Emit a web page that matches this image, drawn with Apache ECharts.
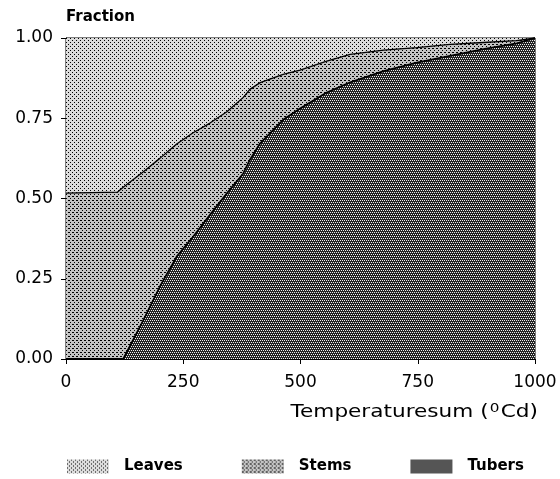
<!DOCTYPE html>
<html>
<head>
<meta charset="utf-8">
<script src="https://cdn.jsdelivr.net/npm/echarts@6/dist/echarts.min.js"></script>
<style>html,body{margin:0;padding:0;background:#fff;}#c{width:560px;height:479px;}</style>
</head>
<body>
<div id="c"></div>
<script>
// Temperature sum (°Cd) sample points
var temps = [0, 110, 122, 165, 200, 236, 271, 307, 343, 378, 392, 414, 463, 499, 556, 606, 677, 748, 819, 890, 961, 1000];
// Fractions of each organ (stacked: tubers bottom, stems middle, leaves top)
var tubers = [0, 0, 0, 0.121, 0.225, 0.319, 0.381, 0.449, 0.516, 0.578, 0.62, 0.672, 0.745, 0.78, 0.83, 0.862, 0.897, 0.923, 0.944, 0.965, 0.983, 1.0];
var stems  = [0.517, 0.52, 0.535, 0.462, 0.4, 0.351, 0.324, 0.286, 0.254, 0.237, 0.22, 0.189, 0.142, 0.12, 0.098, 0.087, 0.065, 0.047, 0.036, 0.021, 0.009, 0];
var leaves = [0.483, 0.48, 0.465, 0.417, 0.375, 0.33, 0.295, 0.265, 0.23, 0.185, 0.16, 0.139, 0.113, 0.1, 0.072, 0.051, 0.038, 0.03, 0.02, 0.014, 0.008, 0];
var seriesNames = ['Leaves', 'Stems', 'Tubers'];
var xTickStep = 250;
var yTickStep = 0.25;

function tile(size, bg, fg, rects) {
  var c = document.createElement('canvas');
  c.width = size; c.height = size;
  var g = c.getContext('2d');
  g.fillStyle = bg; g.fillRect(0, 0, size, size);
  g.fillStyle = fg;
  rects.forEach(function (r) { g.fillRect(r[0], r[1], r[2], r[3]); });
  return { image: c, repeat: 'repeat' };
}
var patLeaves = tile(4, '#dcdcdc', '#000', [[0, 0, 1, 1], [2, 2, 1, 1]]);
var patStems = tile(4, '#c4c4c4', '#000', [[0, 0, 1, 1], [2, 2, 1, 1], [1, 0, 1, 1]]);
var patTubers = tile(4, '#222', '#eee', [[0, 0, 1, 1], [2, 0, 1, 1], [1, 2, 1, 1], [3, 2, 1, 1]]);
var pats = { Leaves: patLeaves, Stems: patStems, Tubers: patTubers };

// cumulative boundaries built from the per-organ fractions
var cumTubers = temps.map(function (t, i) { return [t, tubers[i]]; });
var cumStems = temps.map(function (t, i) { return [t, tubers[i] + stems[i]]; });
var cumLeaves = temps.map(function (t, i) { return [t, tubers[i] + stems[i] + leaves[i]]; });

var chart = echarts.init(document.getElementById('c'), null, { renderer: 'canvas' });
var font = 'DejaVu Sans';
chart.setOption({
  animation: false,
  backgroundColor: '#fff',
  grid: { left: 66, right: 25, top: 38, bottom: 120, show: true, borderColor: '#000', borderWidth: 1, backgroundColor: 'transparent' },
  legend: {
    left: 62, top: 454, itemWidth: 42, itemHeight: 14, itemGap: 59,
    icon: 'rect',
    data: seriesNames.map(function (n) { return { name: n, icon: 'rect', itemStyle: { color: pats[n], borderWidth: 0 } }; }),
    textStyle: { fontFamily: font, fontWeight: 'bold', fontSize: 15, color: '#000', padding: [0, 0, 0, 10] }
  },
  graphic: [{
    type: 'text', x: 538, y: 413, scaleX: 1.27, silent: true,
    style: {
      text: '{n|Temperaturesum (}{s|0}{n|Cd)}',
      align: 'right', verticalAlign: 'middle',
      rich: {
        n: { fontFamily: font, fontSize: 17, fill: '#000' },
        s: { fontFamily: font, fontSize: 12, fill: '#000', verticalAlign: 'top', padding: [0, 1, 8, 1] }
      }
    }
  }],
  xAxis: {
    type: 'value', min: 0, max: 1000, interval: xTickStep,
    axisLine: { lineStyle: { color: '#000', width: 1 } },
    axisTick: { inside: false, length: 5, lineStyle: { color: '#000' } },
    axisLabel: { margin: 15, fontFamily: font, fontSize: 17, color: '#000',
      formatter: function (v) { return String(v); } },
    splitLine: { show: false }
  },
  yAxis: {
    type: 'value', min: 0, max: 1, interval: yTickStep,
    name: 'Fraction', nameLocation: 'end', nameGap: 21,
    nameTextStyle: { align: 'left', verticalAlign: 'middle', fontFamily: font, fontWeight: 'bold', fontSize: 15, color: '#000' },
    axisLine: { show: true, lineStyle: { color: '#000', width: 1 } },
    axisTick: { show: true, inside: false, length: 5, lineStyle: { color: '#000' } },
    axisLabel: { margin: 13, fontFamily: font, fontSize: 17, color: '#000',
      formatter: function (v) { return v.toFixed(2); } },
    splitLine: { show: false }
  },
  series: [
    { name: 'Leaves', type: 'line', data: cumLeaves, symbol: 'none', showSymbol: false,
      lineStyle: { width: 0 }, itemStyle: { color: patLeaves }, areaStyle: { color: patLeaves, opacity: 1, origin: 'start' }, z: 1 },
    { name: 'Stems', type: 'line', data: cumStems, symbol: 'none', showSymbol: false,
      lineStyle: { color: '#000', width: 1.3 }, itemStyle: { color: patStems }, areaStyle: { color: patStems, opacity: 1, origin: 'start' }, z: 2 },
    { name: 'Tubers', type: 'line', data: cumTubers, symbol: 'none', showSymbol: false,
      lineStyle: { color: '#000', width: 1.8 }, itemStyle: { color: patTubers }, areaStyle: { color: patTubers, opacity: 1, origin: 'start' }, z: 3 }
  ]
});
</script>
</body>
</html>
